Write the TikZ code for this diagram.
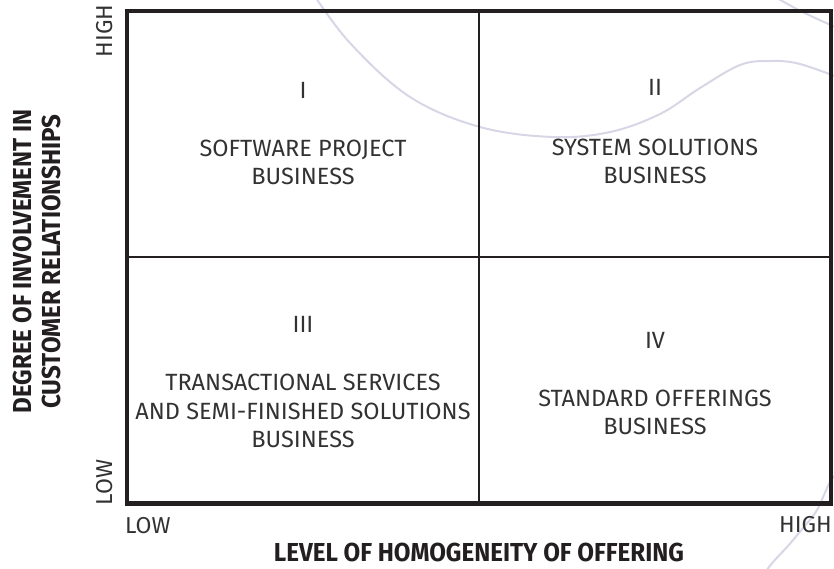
\documentclass[tikz,border=0pt]{standalone}
\usepackage{fontspec}
\setmainfont{Fira Sans}
\newfontfamily\titlefont[FakeStretch=0.93]{Fira Sans}
\definecolor{arccol}{RGB}{214,214,230}
\definecolor{ink}{RGB}{35,31,32}
\definecolor{txt}{RGB}{50,50,50}
\tikzset{
  arcline/.style={draw=arccol, line width=2pt},
  frame/.style={draw=ink, line width=4.5pt},
  divider/.style={draw=ink, line width=2.5pt},
  qtext/.style={font=\fontsize{23.5}{28}\selectfont, text=txt, inner sep=0pt, anchor=base},
  ticklbl/.style={font=\fontsize{23}{28}\selectfont, text=txt, inner sep=0pt},
  axtitle/.style={font=\titlefont\bfseries\fontsize{26}{30}\selectfont, text=ink, inner sep=0pt}
}
\begin{document}
\begin{tikzpicture}[x=1pt,y=-1pt]
\useasboundingbox (0,0) rectangle (834,568);
% decorative background arcs
\draw[arcline] plot[smooth, tension=0.6] coordinates {(312,-8) (350,43) (410,97) (480,127) (553,137) (610,132) (660,114) (700,88) (740,65) (770,61) (800,64) (845,80)};
\draw[arcline] plot[smooth, tension=0.6] coordinates {(770,-6) (793,7) (813,17) (842,30)};
\draw[arcline] plot[smooth, tension=0.6] coordinates {(842,468) (830,482) (817,510) (803,528) (787,547) (773,562) (764,574)};
% frame
\coordinate (NW) at (127,11);
\coordinate (SE) at (831,503.5);
\coordinate (C) at (479,257);
\draw[divider] (C |- NW) -- (C |- SE);
\draw[divider] (C -| NW) -- (C -| SE);
\draw[frame] (NW) rectangle (SE);
% quadrant texts
\node[qtext] (n1) at (303,98) {I};
\node[qtext] (q1a) at (303,156.5) {SOFTWARE PROJECT};
\node[qtext] (q1b) at (303,184.5) {BUSINESS};
\node[qtext] (n2) at (655,95) {II};
\node[qtext] (q2a) at (655,155) {SYSTEM SOLUTIONS};
\node[qtext] (q2b) at (655,183) {BUSINESS};
\node[qtext] (n3) at (303,332.5) {III};
\node[qtext] (q3a) at (303,390.5) {TRANSACTIONAL SERVICES};
\node[qtext] (q3b) at (303,419.5) {AND SEMI-FINISHED SOLUTIONS};
\node[qtext] (q3c) at (303,447.5) {BUSINESS};
\node[qtext] (n4) at (655,348.5) {IV};
\node[qtext] (q4a) at (655,406.5) {STANDARD OFFERINGS};
\node[qtext] (q4b) at (655,434) {BUSINESS};
% tick labels
\node[ticklbl, rotate=90] (yhigh) at (104.5,31) {HIGH};
\node[ticklbl, rotate=90] (ylow) at (104.5,482.5) {LOW};
\node[ticklbl, anchor=base west] (xlow) at (125,533) {LOW};
\node[ticklbl, anchor=base east] (xhigh) at (832,532.5) {HIGH};
% axis titles
\node[axtitle] (xtitle) at (479,552) {LEVEL OF HOMOGENEITY OF OFFERING};
\node[axtitle, rotate=90] (ytitle1) at (22,261.5) {DEGREE OF INVOLVEMENT IN};
\node[axtitle, rotate=90] (ytitle2) at (51,261.5) {CUSTOMER RELATIONSHIPS};
\end{tikzpicture}
\end{document}
